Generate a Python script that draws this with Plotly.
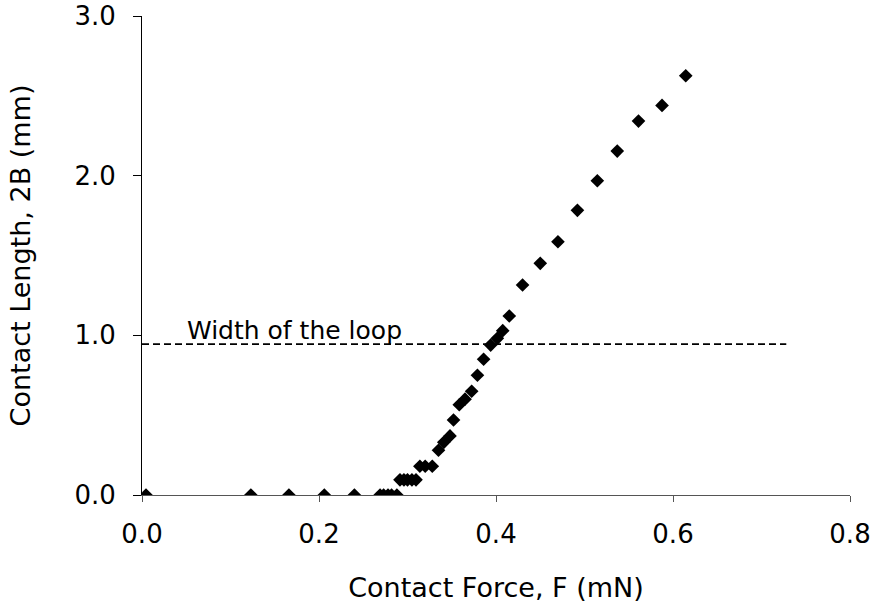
import plotly.graph_objects as go

# Contact force F (mN) and contact length 2B (mm)
force = [0.0045, 0.123, 0.166, 0.206, 0.240,
         0.269, 0.273, 0.278, 0.282, 0.288,
         0.2915, 0.296, 0.300, 0.305, 0.3096,
         0.314, 0.320, 0.328,
         0.335, 0.341, 0.348, 0.352, 0.3585, 0.365, 0.3725, 0.379, 0.386,
         0.394, 0.4015, 0.4076, 0.415, 0.430, 0.450, 0.470, 0.492, 0.5145,
         0.537, 0.561, 0.5876, 0.6144]
length = [0.0, 0.0, 0.0, 0.0, 0.0,
          0.0, 0.0, 0.0, 0.0, 0.0,
          0.095, 0.095, 0.095, 0.095, 0.095,
          0.18, 0.18, 0.18,
          0.28, 0.33, 0.37, 0.47, 0.565, 0.60, 0.65, 0.75, 0.85,
          0.939, 0.981, 1.029, 1.121, 1.315, 1.451, 1.586, 1.783, 1.968,
          2.154, 2.342, 2.44, 2.626]

loop_x = [0.0, 0.728]
loop_y = [0.945, 0.945]
loop_label = "Width of the loop"

x_ticks = [0.0, 0.2, 0.4, 0.6, 0.8]
y_ticks = [0.0, 1.0, 2.0, 3.0]

FONT = "DejaVu Sans"

fig = go.Figure()
fig.add_trace(go.Scatter(x=loop_x, y=loop_y, mode="lines",
                         line=dict(color="black", width=1.8, dash="7px,4px"),
                         hoverinfo="skip", showlegend=False))
fig.add_trace(go.Scatter(x=force, y=length, mode="markers",
                         marker=dict(symbol="diamond", size=10.5, color="black",
                                     line=dict(width=0)),
                         showlegend=False))

fig.add_annotation(x=0.049, y=1.03, xref="x", yref="y", text=loop_label,
                   showarrow=False, xanchor="left", yanchor="middle",
                   font=dict(family=FONT, size=25, color="black"))

fig.update_layout(
    width=876, height=607,
    margin=dict(l=142, r=26, t=16, b=112),
    paper_bgcolor="white", plot_bgcolor="white",
    font=dict(family=FONT, size=27, color="black"),
    xaxis=dict(range=[0, 0.8], tickvals=x_ticks, tickformat=".1f",
               automargin=False,
               showgrid=False, zeroline=False, showline=True,
               linecolor="#555555", linewidth=1, ticks="outside",
               ticklen=6, tickcolor="#555555", ticklabelstandoff=10,
               tickfont=dict(family=FONT, size=26),
               title=dict(text="Contact Force, F (mN)", standoff=29,
                          font=dict(family=FONT, size=27))),
    yaxis=dict(range=[0, 3.0], tickvals=y_ticks, tickformat=".1f",
               automargin=False,
               showgrid=False, zeroline=False, showline=True,
               linecolor="black", linewidth=1, ticks="outside",
               ticklen=8, tickcolor="black", ticklabelstandoff=12,
               tickfont=dict(family=FONT, size=26),
               title=dict(text="Contact Length, 2B (mm)", standoff=35,
                          font=dict(family=FONT, size=27))),
)

fig.write_html("out.html", config={"displayModeBar": False},
               post_script="document.body.style.margin='0';")
